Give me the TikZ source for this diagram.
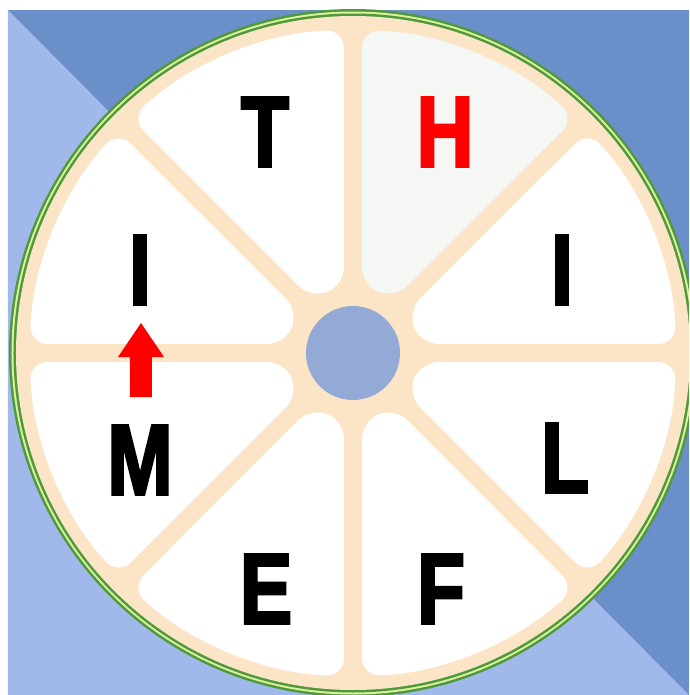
\documentclass[tikz,border=0pt]{standalone}
\usepackage{fontspec}
\newfontfamily\wheelfont[FakeStretch=0.78,FakeBold=2.5]{Liberation Sans}
\definecolor{skydark}{HTML}{6B8FC8}
\definecolor{skylight}{HTML}{A0B9EA}
\definecolor{rimgreen}{HTML}{4E9A3A}
\definecolor{rimlime}{HTML}{DDF0A0}
\definecolor{peach}{HTML}{FCE4C6}
\definecolor{hubblue}{HTML}{94AAD6}
\definecolor{paleseg}{HTML}{F5F7F5}
\tikzset{
  letter/.style={font=\wheelfont\bfseries\fontsize{28.6}{30}\selectfont, inner sep=0pt},
  segment/.style={rounded corners=5pt}
}
\begin{document}
\begin{tikzpicture}
      % Page
      \fill[white] (-3.53,-3.42) rectangle (3.36,3.53);
      \clip (-3.53,-3.42) rectangle (3.36,3.53);

      % Sky
      \fill[skydark] (-3.45,3.43) rectangle (3.36,-3.42);
      \fill[skylight] (-3.45,3.43) -- (-3.45,-3.42) -- (3.36,-3.42) -- cycle;

      % Rim
      \fill[rimgreen] (0,0) circle (3.44);
      \fill[rimlime] (0,0) circle (3.415);
      \fill[rimgreen] (0,0) circle (3.395);
      \fill[peach] (0,0) circle (3.37);

      % Segments
      \fill[white, segment] ([shift={(90:0.09)}]0:0.68) -- (1.6:3.23) arc[start angle=1.6, end angle=43.4, radius=3.23] -- ([shift={(-45:0.09)}]45:0.68) -- cycle;
      \fill[paleseg, segment] ([shift={(135:0.09)}]45:0.68) -- (46.6:3.23) arc[start angle=46.6, end angle=88.4, radius=3.23] -- ([shift={(0:0.09)}]90:0.68) -- cycle;
      \fill[white, segment] ([shift={(180:0.09)}]90:0.68) -- (91.6:3.23) arc[start angle=91.6, end angle=133.4, radius=3.23] -- ([shift={(45:0.09)}]135:0.68) -- cycle;
      \fill[white, segment] ([shift={(225:0.09)}]135:0.68) -- (136.6:3.23) arc[start angle=136.6, end angle=178.4, radius=3.23] -- ([shift={(90:0.09)}]180:0.68) -- cycle;
      \fill[white, segment] ([shift={(270:0.09)}]180:0.68) -- (181.6:3.23) arc[start angle=181.6, end angle=223.4, radius=3.23] -- ([shift={(135:0.09)}]225:0.68) -- cycle;
      \fill[white, segment] ([shift={(315:0.09)}]225:0.68) -- (226.6:3.23) arc[start angle=226.6, end angle=268.4, radius=3.23] -- ([shift={(180:0.09)}]270:0.68) -- cycle;
      \fill[white, segment] ([shift={(0:0.09)}]270:0.68) -- (271.6:3.23) arc[start angle=271.6, end angle=313.4, radius=3.23] -- ([shift={(225:0.09)}]315:0.68) -- cycle;
      \fill[white, segment] ([shift={(45:0.09)}]315:0.68) -- (316.6:3.23) arc[start angle=316.6, end angle=358.4, radius=3.23] -- ([shift={(270:0.09)}]360:0.68) -- cycle;

      % Hub
      \fill[hubblue] (0,0) circle (0.47);

      % Letters
      \node[letter] (t) at (-0.88,2.21) {T};
      \node[letter, red] (h) at (0.92,2.21) {H};
      \node[letter] (iright) at (2.09,0.83) {I};
      \node[letter] (l) at (2.12,-1.05) {L};
      \node[letter] (f) at (0.88,-2.36) {F};
      \node[letter] (e) at (-0.87,-2.36) {E};
      \node[letter] (m) at (-2.13,-1.07) {M};
      \node[letter] (ileft) at (-2.13,0.83) {I};

      % Pointer
      \fill[red] (-2.12,0.30) -- (-1.89,-0.04) -- (-2.01,-0.04) -- (-2.01,-0.44) -- (-2.23,-0.44) -- (-2.23,-0.04) -- (-2.35,-0.04) -- cycle;

    \end{tikzpicture}
\end{document}
